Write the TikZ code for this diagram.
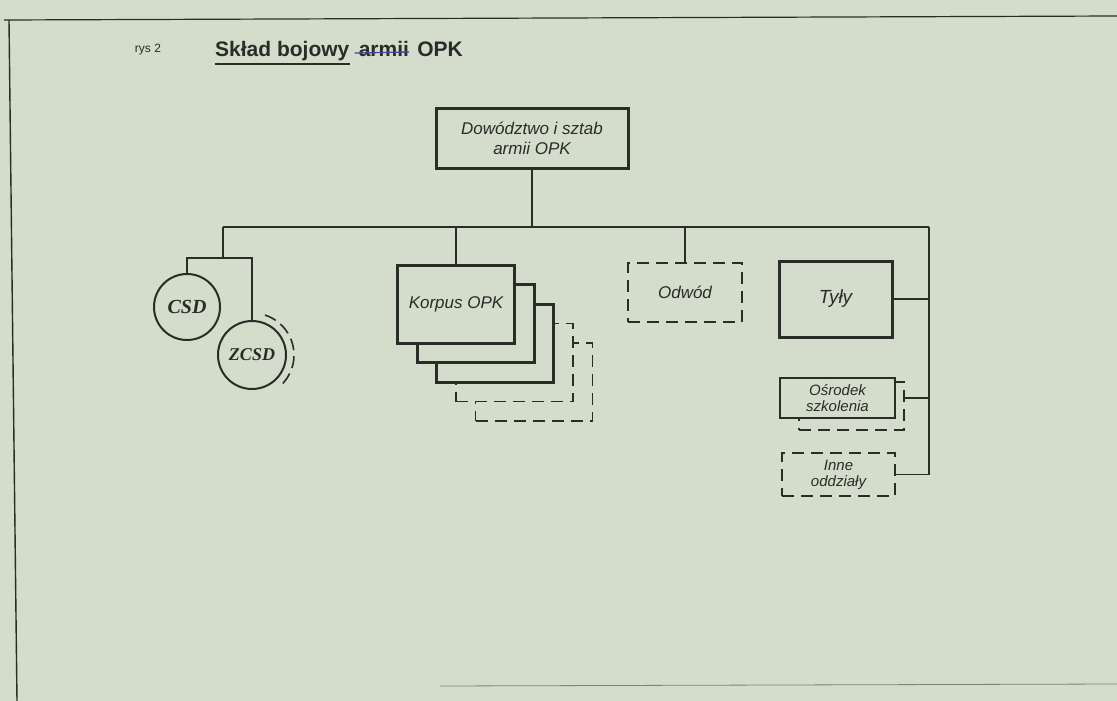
\documentclass[tikz,border=0pt]{standalone}
\usepackage{fontspec}
\setmainfont{Liberation Sans}
\newfontfamily\serifb{Liberation Serif}
\usepackage{tikz}
\usepackage{xcolor}
\definecolor{paper}{RGB}{212,220,204}
\definecolor{ink}{RGB}{42,44,40}
\definecolor{pen}{RGB}{70,70,150}

\begin{document}
\begin{tikzpicture}[x=1pt, y=-1pt, color=ink,
		box/.style={draw=ink, line width=3pt, fill=paper, inner sep=0pt, align=center, font=\fontsize{17}{20}\selectfont\itshape},
		dbox/.style={box, line width=1.7pt, dashed, dash pattern=on 12pt off 7pt},
		unit/.style={draw=ink, circle, line width=2pt, inner sep=0pt, minimum size=66pt, font=\fontsize{20}{22}\selectfont\serifb\bfseries\itshape},
		link/.style={draw=ink, line width=1.6pt},
		tytul/.style={inner sep=0pt, font=\fontsize{21}{24}\selectfont\bfseries}]
				\fill [paper] (0, 0) rectangle (1117, 701);
				\useasboundingbox (0, 0) rectangle (1117, 701);
				% ramka strony
				\draw [line width=1.2pt] (4, 20) -- (1117, 16);
				\draw [line width=1.4pt] (9, 20) -- (17, 701);
				\draw [line width=0.8pt, ink!60] (440, 686) -- (1117, 684);
				% tytul
				\node [font=\fontsize{12}{13}\selectfont] (rys) at (148, 50) {rys 2};
				\node [tytul, anchor=base west] (sklad) at (215, 57) {Skład bojowy};
				\node [tytul, anchor=base west] (armii) at ([xshift=9pt]sklad.base east) {armii};
				\node [tytul, anchor=base west] (opk) at ([xshift=8pt]armii.base east) {OPK};
				\draw [line width=1.2pt] ([yshift=-7pt]sklad.base west) -- ([yshift=-7pt]sklad.base east);
				\draw [pen, line width=1.3pt] ([xshift=-4pt, yshift=4pt]armii.base west) -- ([yshift=5pt]armii.base east);
				% dowodztwo
				\node [box, minimum width=192pt, minimum height=60pt] (dow) at (532, 138) {Dowództwo i sztab\\armii OPK};
				\coordinate (busL) at (223, 227);
				\coordinate (busR) at (929, 227);
				\draw [link] (busL) -- (busR);
				\draw [link] (dow) -- (dow |- busL);
				% korpusy
				\foreach \k/\ls in {4/dbox, 3/dbox, 2/box, 1/box}
					\node [\ls, minimum width=117pt, minimum height=78pt] (kor\k) at (456 + 19.5*\k, 304 + 19.5*\k) {};
				\node [box, minimum width=117pt, minimum height=78pt] (kor) at (456, 304) {Korpus OPK};
				\draw [link] (kor.north) -- (kor.north |- busL);
				% odwod
				\node [dbox, minimum width=114pt, minimum height=59pt] (odw) at (685, 292.5) {Odwód};
				\draw [link] (odw.north) -- (odw.north |- busL);
				% tyly i reszta
				\node [box, minimum width=113pt, minimum height=76pt, font=\fontsize{19}{20}\selectfont\itshape] (tyly) at (835.5, 299) {Tyły};
				\node [dbox, minimum width=105pt, minimum height=48pt] (osr2) at (851.5, 406) {};
				\node [box, line width=2.4pt, minimum width=115pt, minimum height=40pt, font=\fontsize{15}{16}\selectfont\itshape] (osr) at (837.5, 398) {Ośrodek\\szkolenia};
				\node [dbox, minimum width=113pt, minimum height=43pt, font=\fontsize{15}{16}\selectfont\itshape] (inne) at (838.5, 474.5) {Inne\\oddziały};
				\draw [link] (busR) |- (inne.east);
				\draw [link] (tyly.east) -- (tyly.east -| busR);
				\draw [link] (osr2.east |- osr.center) -- (osr.center -| busR);
				% sklady
				\node [unit] (csd) at (187, 307) {CSD};
				\node [unit, minimum size=68pt, font=\fontsize{18}{20}\selectfont\serifb\bfseries\itshape] (zcsd) at (252, 355) {ZCSD};
				\coordinate (rozg) at (223, 258);
				\draw [link] (busL) -- (rozg);
				\draw [link] (csd.north) |- (rozg) -| (zcsd.north);
				\draw [line width=1.6pt, dash pattern=on 12pt off 6pt] ([shift={(72:42pt)}]zcsd.center) arc [start angle=72, end angle=-50, radius=42pt];
			\end{tikzpicture}
\end{document}
